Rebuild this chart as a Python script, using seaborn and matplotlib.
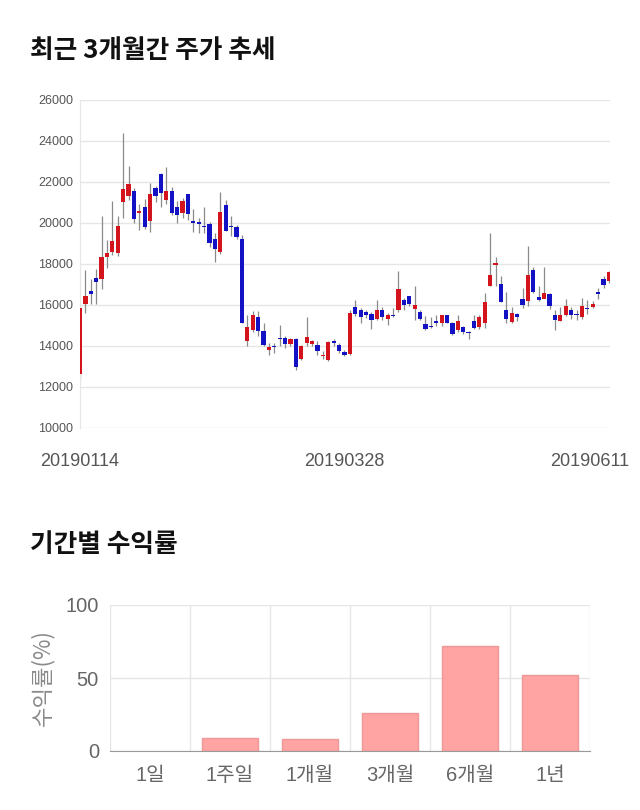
import matplotlib
matplotlib.use("Agg")
import matplotlib.pyplot as plt
import matplotlib.transforms as mtransforms
import seaborn as sns
import numpy as np
import pandas as pd

# --- data: daily candles, 2019-01-14 .. 2019-06-11 ---
opens = [12620, 16050, 16680, 17300, 17250, 18360, 18600, 18520, 21040, 21330,
         21560, 20470, 20760, 20100, 21720, 22370, 21120, 21560, 20760, 20470,
         21400, 20060, 20030, 19870, 19930, 19200, 18590, 20890, 19840, 19790,
         19220, 14230, 14760, 15400, 14750, 13790, 13950, 14370, 14390, 14110,
         14340, 13370, 14150, 14110, 14030, 13500, 13330, 14190, 14030, 13710,
         13630, 15890, 15740, 15660, 15560, 15320, 15770, 15330, 15460, 15740,
         16230, 16420, 15800, 15660, 15070, 14990, 15240, 15120, 15500, 15120,
         14800, 14930, 14630, 15240, 14910, 15120, 16910, 17940, 17040, 15740,
         15170, 15580, 16310, 16180, 17720, 16370, 16310, 16540, 15530, 15240,
         15530, 15770, 15560, 15410, 15850, 15900, 16630, 17270, 17150]
closes = [15840, 16450, 16520, 17100, 18360, 18520, 19120, 19870, 21640, 21900,
          20180, 20590, 19820, 21400, 21320, 21480, 21560, 20470, 20390, 21090,
          20420, 20020, 19940, 19790, 19010, 18720, 20540, 19630, 19790, 19320,
          15120, 14930, 15530, 14750, 14070, 13940, 13930, 14350, 14110, 14360,
          12980, 14020, 14440, 14230, 13740, 13580, 14180, 14160, 13740, 13550,
          15610, 15580, 15420, 15530, 15280, 15740, 15420, 15530, 15450, 16780,
          16020, 16050, 15980, 15320, 14830, 14930, 15120, 15500, 15120, 14590,
          15240, 14680, 14620, 14880, 15420, 16130, 17480, 18050, 16130, 15320,
          15610, 15420, 16020, 17480, 16630, 16230, 16590, 15970, 15250, 15530,
          15930, 15530, 15510, 15970, 15800, 16050, 16540, 16960, 17610]
highs = [15880, 17700, 17270, 17750, 20360, 19170, 21070, 20360, 24370, 22780,
         21690, 20910, 21170, 21970, 21800, 22420, 22720, 21740, 21070, 21200,
         21400, 20670, 20260, 20800, 20030, 19500, 21510, 21140, 20360, 19920,
         19400, 15530, 15720, 15720, 15120, 14150, 14150, 15040, 14500, 14400,
         14390, 14060, 15400, 14310, 14230, 13740, 14230, 14340, 14150, 13790,
         15770, 16260, 15850, 15770, 15660, 16230, 15880, 15610, 15850, 17680,
         16340, 16460, 16910, 15770, 15450, 15400, 15530, 15530, 15530, 15150,
         15500, 14960, 14720, 15530, 15530, 16590, 19510, 18330, 17430, 16630,
         15880, 15610, 16830, 18860, 17840, 16910, 17850, 16590, 15770, 15880,
         16290, 15880, 15770, 16340, 16230, 16180, 16830, 17430, 17640]
lows = [12340, 15600, 16050, 16050, 16780, 17790, 18440, 18410, 20260, 21120,
        20020, 19660, 19690, 19580, 21010, 20760, 20910, 20390, 19980, 20230,
        20150, 19580, 19530, 19500, 18850, 18110, 18500, 19590, 19380, 19220,
        15120, 13980, 14700, 14500, 13980, 13580, 13660, 13980, 13900, 14000,
        12850, 13330, 13980, 13980, 13580, 13370, 13290, 13980, 13660, 13500,
        13580, 15450, 15120, 15370, 14830, 15280, 15250, 15040, 15420, 15660,
        15770, 15970, 15250, 15250, 14800, 14880, 14960, 14960, 15120, 14560,
        14680, 14600, 14360, 14830, 14830, 14880, 16910, 16910, 16130, 15120,
        15120, 15220, 15850, 15940, 16590, 16180, 16590, 15800, 14760, 15220,
        15480, 15300, 15250, 15320, 15580, 15870, 16290, 16850, 17070]
date_labels = ["20190114", "20190328", "20190611"]
date_index = [0, 49, 98]

periods = ["1일", "1주일", "1개월", "3개월", "6개월", "1년"]
returns = [0.0, 9.1, 8.4, 26.0, 71.9, 52.3]

sns.set_style("white")
plt.rcParams['font.family'] = ['Noto Sans CJK KR', 'DejaVu Sans']
TICK_FONT = ['Liberation Sans', 'Noto Sans CJK KR']

RED = "#d4141c"
BLUE = "#1212c4"
GRID = "#e6e6e6"

fig = plt.figure(figsize=(6.4, 8.1), dpi=100)

# ---------------- candle chart ----------------
df = pd.DataFrame({"open": opens, "high": highs, "low": lows, "close": closes})
df["idx"] = np.arange(len(df))
df["up"] = df["close"] >= df["open"]

ax1 = fig.add_axes([80 / 640, 1 - 428 / 810, 530 / 640, 328 / 810])
ax1.vlines(df["idx"], df["low"], df["high"], color="#8a8a8a", lw=0.9, zorder=2)
body_bottom = df[["open", "close"]].min(axis=1)
body_height = (df["close"] - df["open"]).abs().clip(lower=60)
ax1.bar(df["idx"], body_height, bottom=body_bottom, width=0.78,
        color=np.where(df["up"], RED, BLUE), edgecolor="none", zorder=3)

ax1.set_xlim(0, 98.2)
ax1.set_ylim(10000, 26000)
ax1.set_yticks(range(10000, 26001, 2000))
ax1.yaxis.grid(True, color=GRID, lw=1)
ax1.tick_params(axis="y", length=0, pad=5, labelsize=9, labelcolor="#555555")
ax1.set_xticks(date_index)
ax1.set_xticklabels(date_labels)
ax1.tick_params(axis="x", length=0, pad=18, labelsize=13, labelcolor="#555555")
for lab in ax1.get_xticklabels() + ax1.get_yticklabels():
    lab.set_family(TICK_FONT)
last = ax1.get_xticklabels()[-1]
last.set_transform(last.get_transform() + mtransforms.ScaledTranslation(-0.19, 0, fig.dpi_scale_trans))
for s in ["top", "right", "bottom"]:
    ax1.spines[s].set_visible(False)
ax1.spines["left"].set_color(GRID)

fig.text(30 / 640, 1 - 50 / 810, "최근 3개월간 주가 추세", fontsize=18.5,
         fontweight="bold", va="center", ha="left", color="#111111")

# ---------------- returns bar chart ----------------
ax2 = fig.add_axes([110 / 640, 1 - 751 / 810, 480 / 640, 146 / 810])
ret_df = pd.DataFrame({"period": periods, "ret": returns})
sns.barplot(data=ret_df, x="period", y="ret", order=periods, ax=ax2,
            color="#ffa3a3", edgecolor="#ee9898", linewidth=1, width=0.7,
            saturation=1)
for p in ax2.patches:
    if p.get_height() == 0:
        p.set_linewidth(0)
ax2.set_xlim(-0.5, 5.5)
ax2.set_ylim(0, 100)
ax2.set_yticks([0, 50, 100])
ax2.yaxis.grid(True, color=GRID, lw=1)
ax2.set_xticks(np.arange(-0.5, 6, 1), minor=True)
ax2.xaxis.grid(True, which="minor", color=GRID, lw=1)
ax2.tick_params(axis="x", which="minor", length=9, color=GRID, direction="out")
ax2.tick_params(axis="x", which="major", length=0, pad=11, labelsize=14.5,
                labelcolor="#666666")
ax2.tick_params(axis="y", length=0, pad=8, labelsize=14.5, labelcolor="#666666")
for lab in ax2.get_xticklabels() + ax2.get_yticklabels():
    lab.set_family(TICK_FONT)
ax2.set_xlabel("")
ax2.set_ylabel("수익률(%)", fontsize=16, color="#8a8a8a", labelpad=8)
ax2.set_axisbelow(True)
for s in ["top", "right", "left"]:
    ax2.spines[s].set_visible(False)
ax2.spines["bottom"].set_color("#999999")

fig.text(30 / 640, 1 - 545 / 810, "기간별 수익률", fontsize=18.5,
         fontweight="bold", va="center", ha="left", color="#111111")

fig.savefig("out.png", dpi=100)
